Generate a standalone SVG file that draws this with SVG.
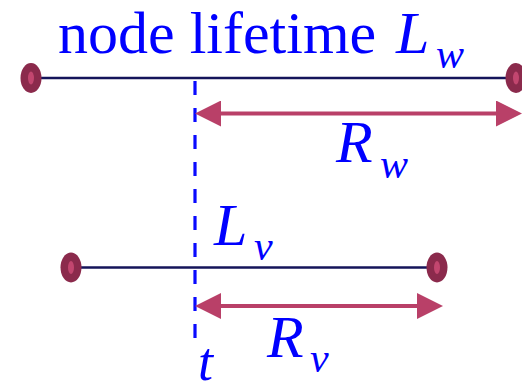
<svg xmlns="http://www.w3.org/2000/svg" width="522" height="392" viewBox="0 0 522 392">
<style>
text{font-family:'Liberation Serif','DejaVu Serif',serif;fill:#0000ff}
.it{font-style:italic}
.big{font-size:60px}
.sub{font-size:42px}
.life{stroke:#14145a;stroke-width:2.6;fill:none}
.span{stroke:#b94068;stroke-width:4;fill:none;marker-start:url(#ah);marker-end:url(#ah)}
.dash{stroke:#0a0aff;stroke-width:3.2;stroke-dasharray:14 13;fill:none}
.dotO{fill:#8b2a4c}
.dotI{fill:#c2466f}
</style>
<defs>
<marker id="ah" markerUnits="userSpaceOnUse" markerWidth="26" markerHeight="26" viewBox="0 0 26 26" refX="0" refY="13" orient="auto-start-reverse">
<path d="M0,0 L26,13 L0,26 z" fill="#b94068"/>
</marker>
</defs>
<text class="big" x="58" y="53" font-family="Liberation Serif, serif">node lifetime</text>
<g id="connectors">
<line class="dash" x1="195" y1="81" x2="195" y2="348"/>
<line class="life" x1="31" y1="78" x2="516" y2="78"/>
<line class="life" x1="71" y1="267.5" x2="437" y2="267.5"/>
<line class="span" x1="221" y1="113.5" x2="496" y2="113.5"/>
<line class="span" x1="221" y1="306" x2="417" y2="306"/>
</g>
<g id="node-w-start"><ellipse class="dotO" cx="31" cy="78" rx="10.5" ry="15"/><ellipse class="dotI" cx="31" cy="78" rx="3" ry="6.5"/></g>
<g id="node-w-end"><ellipse class="dotO" cx="516" cy="78" rx="10.5" ry="15"/><ellipse class="dotI" cx="516" cy="78" rx="3" ry="6.5"/></g>
<g id="node-v-start"><ellipse class="dotO" cx="71" cy="267.5" rx="10.5" ry="15"/><ellipse class="dotI" cx="71" cy="267.5" rx="3" ry="6.5"/></g>
<g id="node-v-end"><ellipse class="dotO" cx="437" cy="267.5" rx="10.5" ry="15"/><ellipse class="dotI" cx="437" cy="267.5" rx="3" ry="6.5"/></g>
<g id="labels" font-family="Liberation Serif, serif">
<text class="it big" x="396" y="53">L</text><text class="it sub" x="436" y="68">w</text>
<text class="it big" x="336" y="162">R</text><text class="it sub" x="380" y="178">w</text>
<text class="it big" x="214" y="245">L</text><text class="it sub" x="254" y="260">v</text>
<text class="it big" x="267" y="357">R</text><text class="it sub" x="310" y="372">v</text>
<text class="it" x="198" y="380" font-size="54">t</text>
</g>
</svg>
